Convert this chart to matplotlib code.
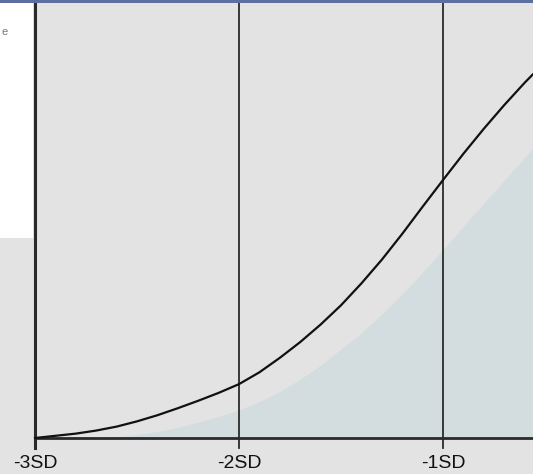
import matplotlib.pyplot as plt
from matplotlib.patches import Rectangle

# tick positions on the SD axis
sd_ticks = [-3, -2, -1]
tick_labels = ['-3SD', '-2SD', '-1SD']

# black curve (height as fraction of plot height)
curve_x = [-3.0, -2.9, -2.8, -2.7, -2.6, -2.5, -2.4, -2.3, -2.2, -2.1, -2.0, -1.9, -1.8,
           -1.7, -1.6, -1.5, -1.4, -1.3, -1.2, -1.1, -1.0, -0.9, -0.8, -0.7, -0.6, -0.56]
curve_y = [0.0, 0.005, 0.010, 0.017, 0.026, 0.038, 0.052, 0.068, 0.085, 0.103, 0.123,
           0.150, 0.183, 0.219, 0.259, 0.303, 0.353, 0.407, 0.466, 0.528, 0.589, 0.649,
           0.706, 0.760, 0.811, 0.830]

# shaded area under the lighter distribution
shade_x = [-2.7, -2.6, -2.5, -2.4, -2.3, -2.2, -2.1, -2.0, -1.9, -1.8, -1.7, -1.6, -1.5,
           -1.4, -1.3, -1.2, -1.1, -1.0, -0.9, -0.8, -0.7, -0.6, -0.56]
shade_y = [0.0, 0.003, 0.008, 0.015, 0.024, 0.036, 0.049, 0.064, 0.083, 0.106, 0.134,
           0.166, 0.203, 0.240, 0.283, 0.329, 0.378, 0.430, 0.483, 0.536, 0.588, 0.640,
           0.662]

bg = '#e3e3e3'
fig = plt.figure(figsize=(5.33, 4.74), dpi=100, facecolor=bg)
ax = fig.add_axes([0, 0, 1, 1])
ax.set_facecolor(bg)

# map pixels: x=-3 at px 35, -1 at px 443; baseline at px 438 of 474
px_per_sd = 204.0
ax.set_xlim(-3 - 35 / px_per_sd, -3 + (533 - 35) / px_per_sd)
ax.set_ylim(-(474 - 438) / 438, 1.0)

# white panel at top left and blue strip on top
fig.patches.append(Rectangle((0, 236 / 474), 33 / 533, 235 / 474, transform=fig.transFigure,
                             facecolor='white', edgecolor='none', zorder=0))
fig.patches.append(Rectangle((0, 1 - 3 / 474), 1, 3 / 474, transform=fig.transFigure,
                             facecolor='#5d6fa2', edgecolor='none', zorder=5))
fig.text(1 / 533, 1 - 32 / 474, 'e', ha='left', va='center', fontsize=8,
         color='#777777', family='Liberation Sans')

ax.fill_between(shade_x, shade_y, 0, color='#d3dcdf', lw=0, zorder=1)

for i, t in enumerate(sd_ticks):
    ax.plot([t, t], [-10 / 438, 1.0], color='#2a2a2a', lw=2.2 if i == 0 else 1.3, zorder=2)
    ax.text(t, -25 / 438, tick_labels[i], ha='center', va='center', fontsize=14,
            color='#111111', family='Liberation Sans')

ax.plot([-3, 0], [0, 0], color='#2a2a2a', lw=2.0, zorder=3)
ax.plot(curve_x, curve_y, color='#111111', lw=1.6, zorder=4)

ax.axis('off')
fig.savefig('out.png', dpi=100, facecolor=bg)
